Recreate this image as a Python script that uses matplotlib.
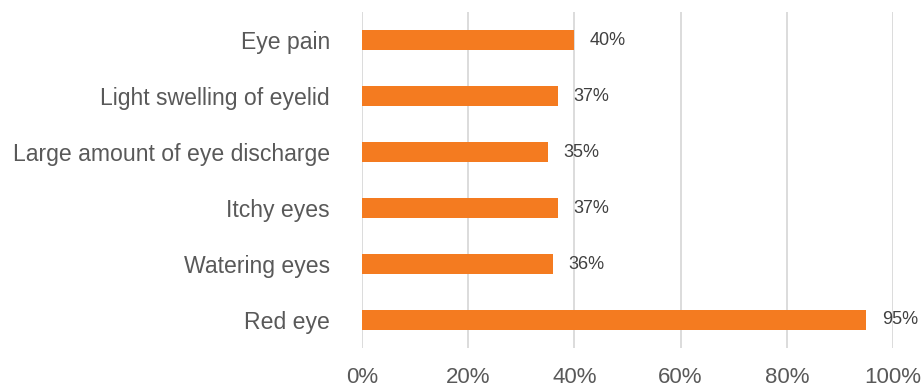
import matplotlib
matplotlib.use("Agg")
import matplotlib.pyplot as plt
from matplotlib.ticker import FuncFormatter

plt.rcParams['font.family'] = ['Liberation Sans', 'DejaVu Sans']

symptoms = ["Eye pain", "Light swelling of eyelid", "Large amount of eye discharge",
            "Itchy eyes", "Watering eyes", "Red eye"]
percent = [40, 37, 35, 37, 36, 95]
x_ticks = [0, 20, 40, 60, 80, 100]

bar_color = "#F47B20"
text_color = "#595959"

fig = plt.figure(figsize=(9.23, 3.88), dpi=100)
ax = fig.add_axes([0.3922, 0.1031, 0.9675 - 0.3922, 0.969 - 0.1031])

ypos = list(range(len(symptoms)))
ax.barh(ypos, percent, height=0.36, color=bar_color, zorder=3)
ax.set_ylim(len(symptoms) - 0.5, -0.5)
ax.set_xlim(0, 100)

for y, v in zip(ypos, percent):
    ax.annotate(f"{v}%", xy=(v, y), xytext=(11, 0), textcoords="offset points",
                ha="left", va="center", fontsize=13, color="#404040")

ax.set_yticks(ypos)
ax.set_yticklabels(symptoms, fontsize=16.6, color=text_color)
ax.set_xticks(x_ticks)
ax.xaxis.set_major_formatter(FuncFormatter(lambda v, p: f"{v:.0f}%"))
ax.tick_params(axis="x", labelsize=16, labelcolor=text_color, length=0, pad=14)
ax.tick_params(axis="y", length=0, pad=23)

ax.grid(axis="x", color="#D9D9D9", linewidth=1.3, zorder=0)
for s in ax.spines.values():
    s.set_visible(False)

fig.savefig("out.png", dpi=100)
